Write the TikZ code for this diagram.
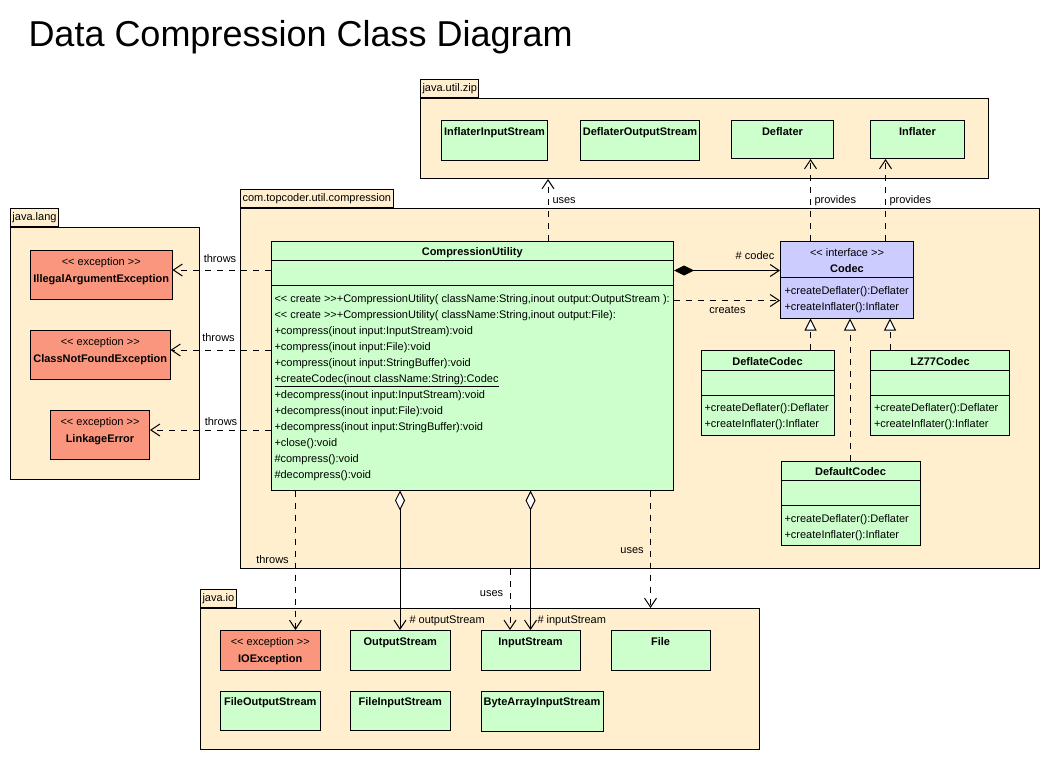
\documentclass[tikz,border=0pt]{standalone}
\usepackage{fontspec}
\setmainfont{Liberation Sans}
\usetikzlibrary{arrows.meta,positioning}
\definecolor{pkgfill}{RGB}{255,239,206}
\definecolor{clsfill}{RGB}{204,255,204}
\definecolor{excfill}{RGB}{250,150,125}
\definecolor{ifcfill}{RGB}{204,204,255}
\newcommand{\stereo}[1]{<{}< #1 >{}>}
\tikzset{
  pkg/.style={draw, fill=pkgfill, anchor=north west, inner sep=0pt},
  pkgtab/.style={draw, fill=pkgfill, anchor=south west, inner xsep=2pt, inner ysep=0pt, minimum height=18pt, font=\fontsize{11}{13}\selectfont},
  cls/.style={draw, fill=clsfill, anchor=north west, inner sep=0pt},
  exc/.style={cls, fill=excfill},
  ifc/.style={cls, fill=ifcfill},
  cname/.style={anchor=base, inner sep=0pt, font=\bfseries\fontsize{11}{13}\selectfont},
  stype/.style={anchor=base, inner sep=0pt, font=\fontsize{11}{13}\selectfont},
  members/.style={anchor=north west, inner sep=0pt, align=left, font=\fontsize{11}{16}\selectfont},
  lbl/.style={inner sep=0pt, font=\fontsize{11}{13}\selectfont},
  dep/.style={dash pattern=on 6pt off 6pt, -{Straight Barb[length=9pt,width=12pt]}},
  realize/.style={dash pattern=on 6pt off 6pt, -{Triangle[open,length=12pt,width=12pt,fill=white]}},
  comp/.style={{Diamond[length=20pt,width=10pt]}-{Straight Barb[length=9pt,width=12pt]}},
  aggr/.style={{Diamond[open,length=20pt,width=10pt,fill=white]}-{Straight Barb[length=9pt,width=12pt]}},
}
\begin{document}
\begin{tikzpicture}[x=1pt,y=-1pt,line width=1pt]
\useasboundingbox[fill=white] (0,0) rectangle (1050,760);
\node[anchor=base west, inner sep=0pt, font=\fontsize{36}{40}\selectfont] (title) at (28,47) {Data Compression Class Diagram};

% packages
\node[pkg, minimum width=799, minimum height=360] (com) at (240,208) {};
\node[pkgtab] (comtab) at (com.north west) {com.topcoder.util.compression};
\node[pkg, minimum width=189, minimum height=252] (lang) at (10,227) {};
\node[pkgtab] (langtab) at (lang.north west) {java.lang};
\node[pkg, minimum width=568, minimum height=80] (zip) at (420,98) {};
\node[pkgtab] (ziptab) at (zip.north west) {java.util.zip};
\node[pkg, minimum width=559, minimum height=141] (io) at (200,608) {};
\node[pkgtab] (iotab) at (io.north west) {java.io};

% java.util.zip
\node[cls, minimum width=106, minimum height=40] (iis) at (441,120) {};
\node[cls, minimum width=119, minimum height=40] (dos) at (580,120) {};
\node[cls, minimum width=102, minimum height=38] (defl) at (731,120) {};
\node[cls, minimum width=94, minimum height=38] (infl) at (870,120) {};
\node[cname] (iisname) at ([yshift=-15pt]iis.north) {InflaterInputStream};
\node[cname] (dosname) at ([yshift=-15pt]dos.north) {DeflaterOutputStream};
\node[cname] (deflname) at ([yshift=-15pt]defl.north) {Deflater};
\node[cname] (inflname) at ([yshift=-15pt]infl.north) {Inflater};

% java.lang
\node[exc, minimum width=141.5, minimum height=49] (iae) at (30,250) {};
\node[exc, minimum width=139.5, minimum height=49] (cnf) at (30,330) {};
\node[exc, minimum width=99, minimum height=49] (lke) at (50,410) {};
\node[stype] (iaest) at ([yshift=-15.5pt]iae.north) {\stereo{exception}};
\node[cname] (iaename) at ([yshift=-32.5pt]iae.north) {IllegalArgumentException};
\node[stype] (cnfst) at ([yshift=-15.5pt]cnf.north) {\stereo{exception}};
\node[cname] (cnfname) at ([yshift=-32.5pt]cnf.north) {ClassNotFoundException};
\node[stype] (lkest) at ([yshift=-15.5pt]lke.north) {\stereo{exception}};
\node[cname] (lkename) at ([yshift=-32.5pt]lke.north) {LinkageError};

% com.topcoder.util.compression
\node[cls, minimum width=402.5, minimum height=249] (cu) at (270.5,240.5) {};
\draw ([yshift=-20pt]cu.north west) -- ([yshift=-20pt]cu.north east);
\draw ([yshift=-44.5pt]cu.north west) -- ([yshift=-44.5pt]cu.north east);
\node[cname] (cuname) at ([yshift=-15pt]cu.north) {CompressionUtility};
\node[members] (cumembers) at ([xshift=3.5pt,yshift=-53.5pt]cu.north west) {%
\stereo{create}+CompressionUtility( className:String,inout output:OutputStream ):\\
\stereo{create}+CompressionUtility( className:String,inout output:File):\\
+compress(inout input:InputStream):void\\
+compress(inout input:File):void\\
+compress(inout input:StringBuffer):void\\
\underline{+createCodec(inout className:String):Codec}\\
+decompress(inout input:InputStream):void\\
+decompress(inout input:File):void\\
+decompress(inout input:StringBuffer):void\\
+close():void\\
\#compress():void\\
\#decompress():void};

\node[ifc, minimum width=133, minimum height=77] (codec) at (780,240.5) {};
\draw ([yshift=-36.5pt]codec.north west) -- ([yshift=-36.5pt]codec.north east);
\node[stype] (codecst) at ([yshift=-16pt]codec.north) {\stereo{interface}};
\node[cname] (codecname) at ([yshift=-31.5pt]codec.north) {Codec};
\node[members] (codecmembers) at ([xshift=4pt,yshift=-46pt]codec.north west) {+createDeflater():Deflater\\+createInflater():Inflater};

\node[cls, minimum width=133, minimum height=85] (dfc) at (700.5,350) {};
\node[cls, minimum width=139, minimum height=85] (lzc) at (870,350) {};
\node[cls, minimum width=139, minimum height=84.5] (dtc) at (780.5,460.5) {};
\foreach \c/\t in {dfc/DeflateCodec, lzc/LZ77Codec, dtc/DefaultCodec}{
  \draw ([yshift=-20pt]\c.north west) -- ([yshift=-20pt]\c.north east);
  \draw ([yshift=-45pt]\c.north west) -- ([yshift=-45pt]\c.north east);
  \node[cname] (\c name) at ([yshift=-15pt]\c.north) {\t};
  \node[members] (\c members) at ([xshift=3.5pt,yshift=-53.5pt]\c.north west) {+createDeflater():Deflater\\+createInflater():Inflater};
}

% java.io
\node[exc, minimum width=99.5, minimum height=39.5] (ioe) at (220,630) {};
\node[stype] (ioest) at ([yshift=-15pt]ioe.north) {\stereo{exception}};
\node[cname] (ioename) at ([yshift=-32pt]ioe.north) {IOException};
\node[cls, minimum width=99.5, minimum height=39.5] (ostr) at (350,630) {};
\node[cls, minimum width=99, minimum height=39.5] (istr) at (480.5,630) {};
\node[cls, minimum width=99, minimum height=39.5] (file) at (610.5,630) {};
\node[cls, minimum width=99.5, minimum height=39] (fos) at (220,690.5) {};
\node[cls, minimum width=99.5, minimum height=39] (fis) at (350,690.5) {};
\node[cls, minimum width=122, minimum height=40.5] (bais) at (480.5,690.5) {};
\node[cname] (ostrname) at ([yshift=-15pt]ostr.north) {OutputStream};
\node[cname] (istrname) at ([yshift=-15pt]istr.north) {InputStream};
\node[cname] (filename) at ([yshift=-15pt]file.north) {File};
\node[cname] (fosname) at ([yshift=-14.5pt]fos.north) {FileOutputStream};
\node[cname] (fisname) at ([yshift=-14.5pt]fis.north) {FileInputStream};
\node[cname] (baisname) at ([yshift=-14.5pt]bais.north) {ByteArrayInputStream};

% connectors
\draw[dep] (cu.north -| 548,0) -- (zip.south -| 548,0);
\draw[dep] (codec.north -| 810.5,0) -- (defl.south -| 810.5,0);
\draw[dep] (codec.north -| 885.5,0) -- (infl.south -| 885.5,0);
\draw[dep] (cu.west |- 0,270) -- (iae.east |- 0,270);
\draw[dep] (cu.west |- 0,350) -- (cnf.east |- 0,350);
\draw[dep] (cu.west |- 0,430) -- (lke.east |- 0,430);
\draw[comp] (cu.east |- 0,270.5) -- (codec.west |- 0,270.5);
\draw[dep] (cu.east |- 0,300.5) -- (codec.west |- 0,300.5);
\draw[realize] (dfc.north -| 810.5,0) -- (codec.south -| 810.5,0);
\draw[realize] (dtc.north -| 850,0) -- (codec.south -| 850,0);
\draw[realize] (lzc.north -| 890,0) -- (codec.south -| 890,0);
\draw[dep] (cu.south -| 295.5,0) -- (ioe.north -| 295.5,0);
\draw[aggr] (cu.south -| 400,0) -- (ostr.north -| 400,0);
\draw[aggr] (cu.south -| 530.5,0) -- (istr.north -| 530.5,0);
\draw[dep] (com.south -| 510,0) -- (istr.north -| 510,0);
\draw[dep] (cu.south -| 650.5,0) -- (io.north -| 650.5,0);

% connector labels
\node[lbl, anchor=base west] (usesa) at (552,203) {uses};
\node[lbl, anchor=base west] (providesa) at (814,203.5) {provides};
\node[lbl, anchor=base west] (providesb) at (889,203.5) {provides};
\node[lbl, anchor=base] (throwsa) at (220,262) {throws};
\node[lbl, anchor=base] (throwsb) at (218.5,341.5) {throws};
\node[lbl, anchor=base] (throwsc) at (221,425.5) {throws};
\node[lbl, anchor=base] (codecrole) at (755,259.5) {\# codec};
\node[lbl, anchor=base] (creates) at (727.5,313.5) {creates};
\node[lbl, anchor=base] (throwsd) at (272.5,563.5) {throws};
\node[lbl, anchor=base] (usesb) at (632,553) {uses};
\node[lbl, anchor=base] (usesc) at (491.5,596) {uses};
\node[lbl, anchor=base west] (ostrrole) at (409,623.5) {\# outputStream};
\node[lbl, anchor=base west] (istrrole) at (537,623) {\# inputStream};
\end{tikzpicture}
\end{document}
